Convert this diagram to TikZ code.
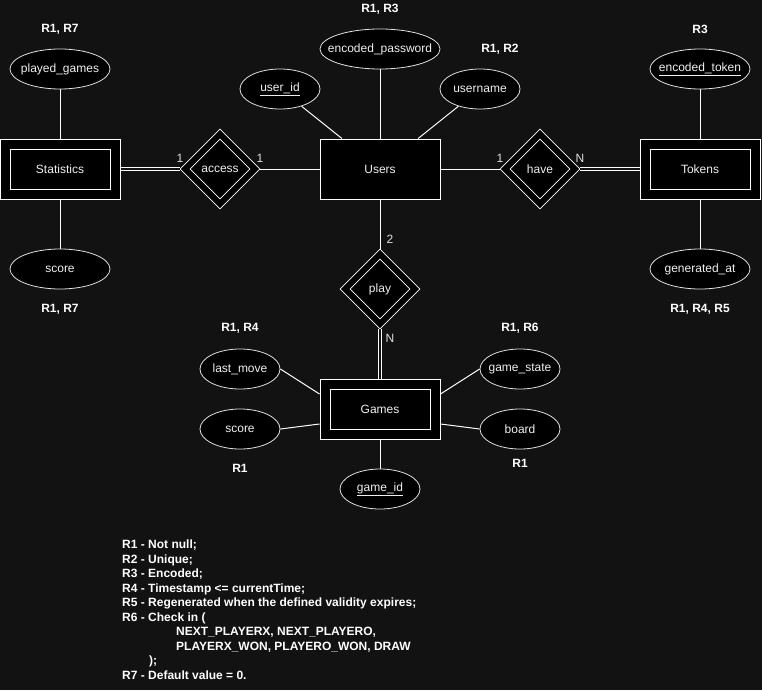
\documentclass[tikz,border=0pt]{standalone}
\usepackage{fontspec}
\setmainfont{Liberation Sans}
\usetikzlibrary{shapes.geometric}
\definecolor{bg}{HTML}{121212}
\definecolor{ink}{HTML}{F0F0F0}
\definecolor{rim}{HTML}{E0E0E0}
% label that does not widen its shape
\newcommand\fixedlabel[1]{\makebox[0pt]{#1}}

\begin{document}
\begin{tikzpicture}[x=1pt,y=-1pt,
  every node/.style={font=\fontsize{12}{14}\selectfont, text=ink},
  entity/.style={draw=white, fill=black, line width=1pt, inner sep=0pt,
    minimum width=120pt, minimum height=60pt},
  innerbox/.style={draw=white, line width=1pt, inner sep=0pt,
    minimum width=100pt, minimum height=40pt},
  relation/.style={diamond, aspect=1, draw=white, fill=black, line width=0.8pt,
    inner sep=0pt, minimum width=80pt, minimum height=80pt},
  innerdia/.style={diamond, aspect=1, draw=white, line width=0.8pt,
    inner sep=0pt, minimum width=60pt, minimum height=60pt},
  attr/.style={ellipse, draw=rim, fill=black, line width=0.8pt, inner sep=0pt,
    minimum width=#1, minimum height=40pt},
  attr/.default=80pt,
  ln/.style={draw=white, line width=1pt},
  dbl/.style={draw=white, line width=1pt, double=bg, double distance=2.5pt},
  card/.style={font=\fontsize{12}{14}\selectfont, text=rim},
  rule/.style={font=\fontsize{12}{14}\selectfont\bfseries, text=white},
]
\fill[bg] (0,0) rectangle (762,690);
\useasboundingbox (0,0) rectangle (762,690);

% entities
\node[entity] (stat) at (60,169) {};
\node[innerbox] (statin) at (60,169) {Statistics};
\node[entity] (users) at (380,169) {Users};
\node[entity] (tok) at (700,169) {};
\node[innerbox] (tokin) at (700,169) {Tokens};
\node[entity] (games) at (380,409) {};
\node[innerbox] (gamesin) at (380,409) {Games};

% relationships
\node[relation] (access) at (220,169) {};
\node[innerdia] (accessin) at (220,169) {\fixedlabel{access}};
\node[relation] (have) at (540,169) {};
\node[innerdia] (havein) at (540,169) {\fixedlabel{have}};
\node[relation] (play) at (380,289) {};
\node[innerdia] (playin) at (380,289) {\fixedlabel{play}};

% attributes
\node[attr=100pt] (pg) at (60,69) {\fixedlabel{played\_games}};
\node[attr=100pt] (sc1) at (60,269) {\fixedlabel{score}};
\node[attr] (uid) at (280,89) {\fixedlabel{\underline{user\_id}}};
\node[attr=120pt] (pw) at (380,49) {\fixedlabel{encoded\_password}};
\node[attr] (un) at (480,89) {\fixedlabel{username}};
\node[attr=100pt] (et) at (700,69) {\fixedlabel{\underline{encoded\_token}}};
\node[attr=100pt] (ga) at (700,269) {\fixedlabel{generated\_at}};
\node[attr] (lm) at (240,369) {\fixedlabel{last\_move}};
\node[attr] (sc2) at (240,429) {\fixedlabel{score}};
\node[attr] (gs) at (520,369) {\fixedlabel{game\_state}};
\node[attr] (bd) at (520,429) {\fixedlabel{board}};
\node[attr] (gid) at (380,489) {\fixedlabel{\underline{game\_id}}};

% relationship connectors
\draw[dbl] (stat) -- (access);
\draw[ln] (access) -- (users);
\draw[ln] (users) -- (have);
\draw[dbl] (have) -- (tok);
\draw[ln] (users) -- (play);
\draw[dbl] (play) -- (games);

% attribute connectors
\draw[ln] (pg) -- (stat);
\draw[ln] (sc1) -- (stat);
\draw[ln] (uid) -- (users);
\draw[ln] (pw) -- (users);
\draw[ln] (un) -- (users);
\draw[ln] (et) -- (tok);
\draw[ln] (ga) -- (tok);
\draw[ln] (lm.east) -- ([yshift=15pt]games.west);
\draw[ln] (sc2.east) -- ([yshift=-15pt]games.west);
\draw[ln] (gs.west) -- ([yshift=15pt]games.east);
\draw[ln] (bd.west) -- ([yshift=-15pt]games.east);
\draw[ln] (gid) -- (games);

% cardinalities
\node[card] (c1) at (180,158) {1};
\node[card] (c2) at (260,158) {1};
\node[card] (c3) at (500,158) {1};
\node[card] (c4) at (580,158) {N};
\node[card] (c5) at (390,239) {2};
\node[card] (c6) at (390,338) {N};

% constraint tags
\node[rule] (r1) at (60,29) {R1, R7};
\node[rule] (r2) at (60,309) {R1, R7};
\node[rule] (r3) at (380,9) {R1, R3};
\node[rule] (r4) at (500,49) {R1, R2};
\node[rule] (r5) at (700,29) {R3};
\node[rule] (r6) at (700,309) {R1, R4, R5};
\node[rule] (r7) at (240,328) {R1, R4};
\node[rule] (r8) at (520,328) {R1, R6};
\node[rule] (r9) at (240,468) {R1};
\node[rule] (r10) at (520,463) {R1};

% legend
\node[rule, anchor=north west, align=left, inner sep=0pt,
  font=\fontsize{12}{14.5}\selectfont\bfseries] (legend) at (122,540) {%
R1 - Not null;\\
R2 - Unique;\\
R3 - Encoded;\\
R4 - Timestamp <= currentTime;\\
R5 - Regenerated when the defined validity expires;\\
R6 - Check in (\\
\hspace*{54pt}NEXT\_PLAYERX, NEXT\_PLAYERO,\\
\hspace*{54pt}PLAYERX\_WON, PLAYERO\_WON, DRAW\\
\hspace*{27pt});\\
R7 - Default value = 0.};
\end{tikzpicture}
\end{document}
